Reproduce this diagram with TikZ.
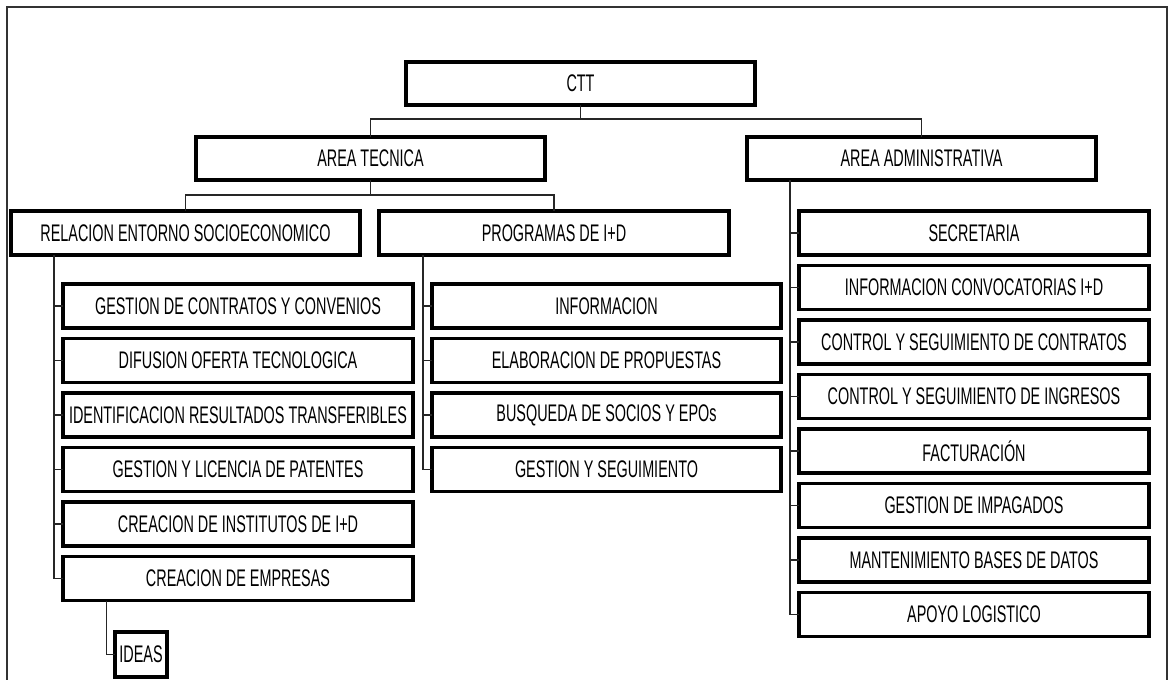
\documentclass[tikz,border=0pt]{standalone}
\usepackage{fontspec}
\setmainfont[FakeStretch=0.6]{Liberation Sans}
\begin{document}
\begin{tikzpicture}[x=1pt,y=-1pt,
  box/.style={draw=black, line width=3.4pt, inner sep=0pt, outer sep=0pt, anchor=north west,
    minimum height=44pt, font=\fontsize{24}{26}\selectfont, text=black},
  link/.style={draw=black!85, line width=1.3pt}]
\useasboundingbox (0,0) rectangle (1170,680);
\fill[white] (0,0) rectangle (1170,680);
\draw[line width=1.3pt, black!80] (7,680) -- (7,7) -- (1167,7) -- (1167,680);

% top levels
\node[box, minimum width=349pt, minimum height=43pt] (ctt) at (406,62) {CTT};
\node[box, minimum width=349pt, minimum height=43pt] (at) at (196,137) {AREA TECNICA};
\node[box, minimum width=349pt, minimum height=43pt] (aa) at (747,137) {AREA ADMINISTRATIVA};
\node[box, minimum width=349pt] (rel) at (11,211) {RELACION ENTORNO SOCIOECONOMICO};
\node[box, minimum width=350pt] (prog) at (379,211) {PROGRAMAS DE I+D};

% left column
\node[box, minimum width=350pt] (l1) at (63,284) {GESTION DE CONTRATOS Y CONVENIOS};
\node[box, minimum width=350pt] (l2) at (63,338.5) {DIFUSION OFERTA TECNOLOGICA};
\node[box, minimum width=350pt] (l3) at (63,393) {IDENTIFICACION RESULTADOS TRANSFERIBLES};
\node[box, minimum width=350pt] (l4) at (63,447.5) {GESTION Y LICENCIA DE PATENTES};
\node[box, minimum width=350pt] (l5) at (63,502) {CREACION DE INSTITUTOS DE I+D};
\node[box, minimum width=350pt] (l6) at (63,556.5) {CREACION DE EMPRESAS};
\node[box, minimum width=52pt, minimum height=45pt] (ideas) at (115,632) {IDEAS};

% middle column
\node[box, minimum width=349pt] (m1) at (432,284) {INFORMACION};
\node[box, minimum width=349pt] (m2) at (432,338.5) {ELABORACION DE PROPUESTAS};
\node[box, minimum width=349pt] (m3) at (432,393) {BUSQUEDA DE SOCIOS Y EPOs};
\node[box, minimum width=349pt] (m4) at (432,447.5) {GESTION Y SEGUIMIENTO};

% right column
\node[box, minimum width=350pt] (r1) at (799,211) {SECRETARIA};
\node[box, minimum width=350pt] (r2) at (799,265.5) {INFORMACION CONVOCATORIAS I+D};
\node[box, minimum width=350pt] (r3) at (799,320) {CONTROL Y SEGUIMIENTO DE CONTRATOS};
\node[box, minimum width=350pt] (r4) at (799,374.5) {CONTROL Y SEGUIMIENTO DE INGRESOS};
\node[box, minimum width=350pt] (r5) at (799,429) {FACTURACIÓN};
\node[box, minimum width=350pt] (r6) at (799,483.5) {GESTION DE IMPAGADOS};
\node[box, minimum width=350pt] (r7) at (799,538) {MANTENIMIENTO BASES DE DATOS};
\node[box, minimum width=350pt] (r8) at (799,592.5) {APOYO LOGISTICO};

% trunk x positions
\coordinate (lx) at (54,0);
\coordinate (mx) at (423,0);
\coordinate (rx) at (790,0);
\coordinate (ix) at (106.5,0);

% connectors
\draw[link] (ctt.south) -- ++(0,14) coordinate (j1);
\draw[link] (at.north) |- (j1) -| (aa.north);
\draw[link] (at.south) -- ++(0,15) coordinate (j2);
\draw[link] (rel.north) |- (j2) -| (prog.north);

\draw[link] (rel.south -| lx) |- (l6.west);
\foreach \n in {l1,l2,l3,l4,l5} \draw[link] (\n.west -| lx) -- (\n.west);
\draw[link] (l6.south -| ix) |- (ideas.west);

\draw[link] (prog.south -| mx) |- (m4.west);
\foreach \n in {m1,m2,m3} \draw[link] (\n.west -| mx) -- (\n.west);

\draw[link] (aa.south -| rx) |- (r8.west);
\foreach \n in {r1,r2,r3,r4,r5,r6,r7} \draw[link] (\n.west -| rx) -- (\n.west);
\end{tikzpicture}
\end{document}
